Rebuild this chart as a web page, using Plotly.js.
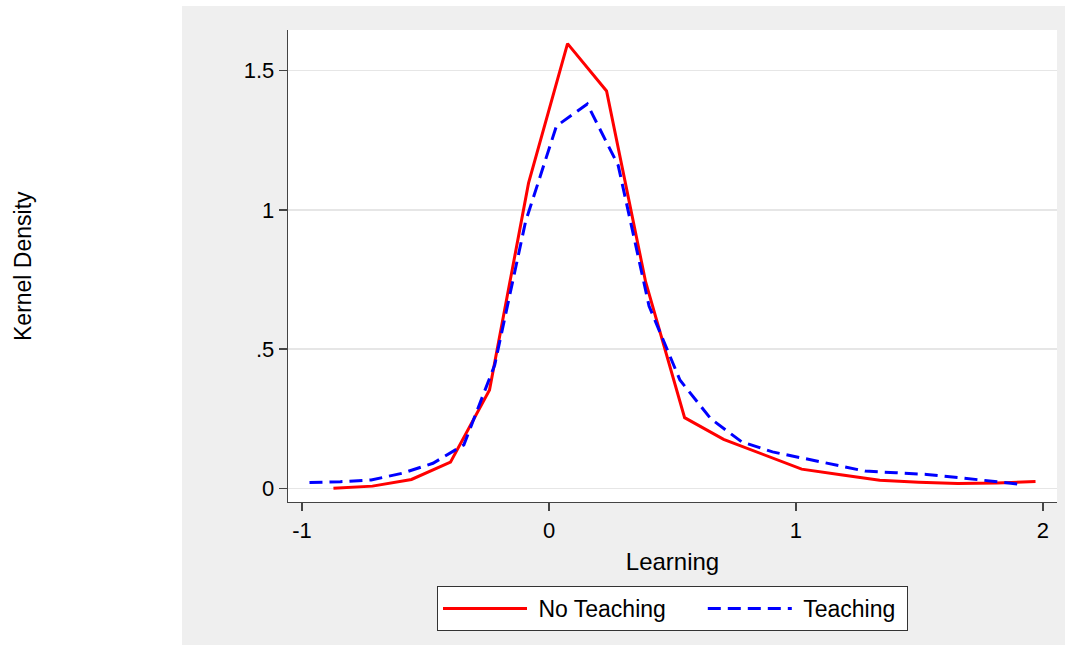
<!DOCTYPE html>
<html>
<head>
<meta charset="utf-8">
<script src="https://cdn.plot.ly/plotly-3.0.1.min.js"></script>
<style>html,body{margin:0;padding:0;background:#fff;}#chart{width:1070px;height:646px;}</style>
</head>
<body>
<div id="chart"></div>
<script>
// No Teaching (red, solid)
const noTeachX = [-0.873, -0.715, -0.557, -0.399, -0.241, -0.083, 0.075, 0.233, 0.391, 0.549, 0.707, 0.865, 1.023, 1.181, 1.339, 1.497, 1.655, 1.813, 1.970];
const noTeachY = [0.000, 0.008, 0.032, 0.094, 0.353, 1.096, 1.597, 1.427, 0.742, 0.254, 0.176, 0.122, 0.069, 0.049, 0.029, 0.022, 0.017, 0.019, 0.025];
// Teaching (blue, dashed)
const teachX = [-0.970, -0.845, -0.720, -0.595, -0.470, -0.345, -0.220, -0.095, 0.030, 0.155, 0.280, 0.405, 0.530, 0.655, 0.780, 0.905, 1.030, 1.155, 1.280, 1.405, 1.530, 1.655, 1.780, 1.905];
const teachY = [0.021, 0.024, 0.030, 0.054, 0.090, 0.156, 0.443, 0.958, 1.301, 1.380, 1.160, 0.655, 0.389, 0.250, 0.167, 0.131, 0.108, 0.084, 0.062, 0.056, 0.050, 0.039, 0.027, 0.015];

const seriesNames = ["No Teaching", "Teaching"];
const xTickVals = [-1, 0, 1, 2];
const xTickText = ["-1", "0", "1", "2"];
const yTickVals = [0, 0.5, 1, 1.5];
const yTickText = ["0", ".5", "1", "1.5"];

const FONT = "Liberation Sans, Arial, sans-serif";
const NB = "\u00a0";

const traces = [
  {x: noTeachX, y: noTeachY, type: "scatter", mode: "lines",
   name: NB + seriesNames[0] + NB.repeat(5),
   line: {color: "#ff0000", width: 3}},
  {x: teachX, y: teachY, type: "scatter", mode: "lines",
   name: NB + seriesNames[1] + NB,
   line: {color: "#0000ff", width: 3, dash: "13px,7px"}}
];

const layout = {
  width: 1070, height: 646,
  margin: {l: 288, r: 13, t: 30, b: 144},
  paper_bgcolor: "#ffffff",
  plot_bgcolor: "#ffffff",
  font: {family: FONT, size: 22, color: "#000000"},
  showlegend: true,
  legend: {
    orientation: "h", x: 0.5, xanchor: "center", y: -0.178, yanchor: "top",
    bgcolor: "#ffffff", bordercolor: "#333333", borderwidth: 1,
    font: {family: FONT, size: 23, color: "#000000"},
    itemwidth: 84, traceorder: "normal"
  },
  xaxis: {
    range: [-1.057, 2.057], showgrid: false, zeroline: false,
    showline: true, linecolor: "#444444", linewidth: 1.3,
    ticks: "outside", ticklen: 8, tickwidth: 1.3, tickcolor: "#444444",
    tickvals: xTickVals, ticktext: xTickText,
    tickfont: {family: FONT, size: 22, color: "#000000"},
    title: {text: "Learning", font: {family: FONT, size: 24, color: "#000000"}, standoff: 11}
  },
  yaxis: {
    range: [-0.049, 1.646], showgrid: true, gridcolor: "#e6e6e6", gridwidth: 1.6,
    zeroline: false,
    showline: true, linecolor: "#444444", linewidth: 1.3,
    ticks: "outside", ticklen: 8, tickwidth: 1.3, tickcolor: "#444444",
    tickvals: yTickVals, ticktext: yTickText,
    tickfont: {family: FONT, size: 22, color: "#000000"}
  },
  shapes: [
    {type: "rect", xref: "paper", yref: "paper", x0: -0.1378, x1: 1.0104, y0: -0.303, y1: 1.0508,
     fillcolor: "#efefef", line: {width: 0}, layer: "below"},
    {type: "rect", xref: "paper", yref: "paper", x0: 0, x1: 1, y0: 0, y1: 1,
     fillcolor: "#ffffff", line: {width: 0}, layer: "below"}
  ],
  annotations: [
    {text: "Kernel Density", xref: "paper", yref: "paper", x: (23 - 288) / 769, y: 0.5,
     xanchor: "center", yanchor: "middle", textangle: -90, showarrow: false,
     font: {family: FONT, size: 23, color: "#000000"}}
  ]
};

Plotly.newPlot("chart", traces, layout, {displayModeBar: false, staticPlot: true});
</script>
</body>
</html>
